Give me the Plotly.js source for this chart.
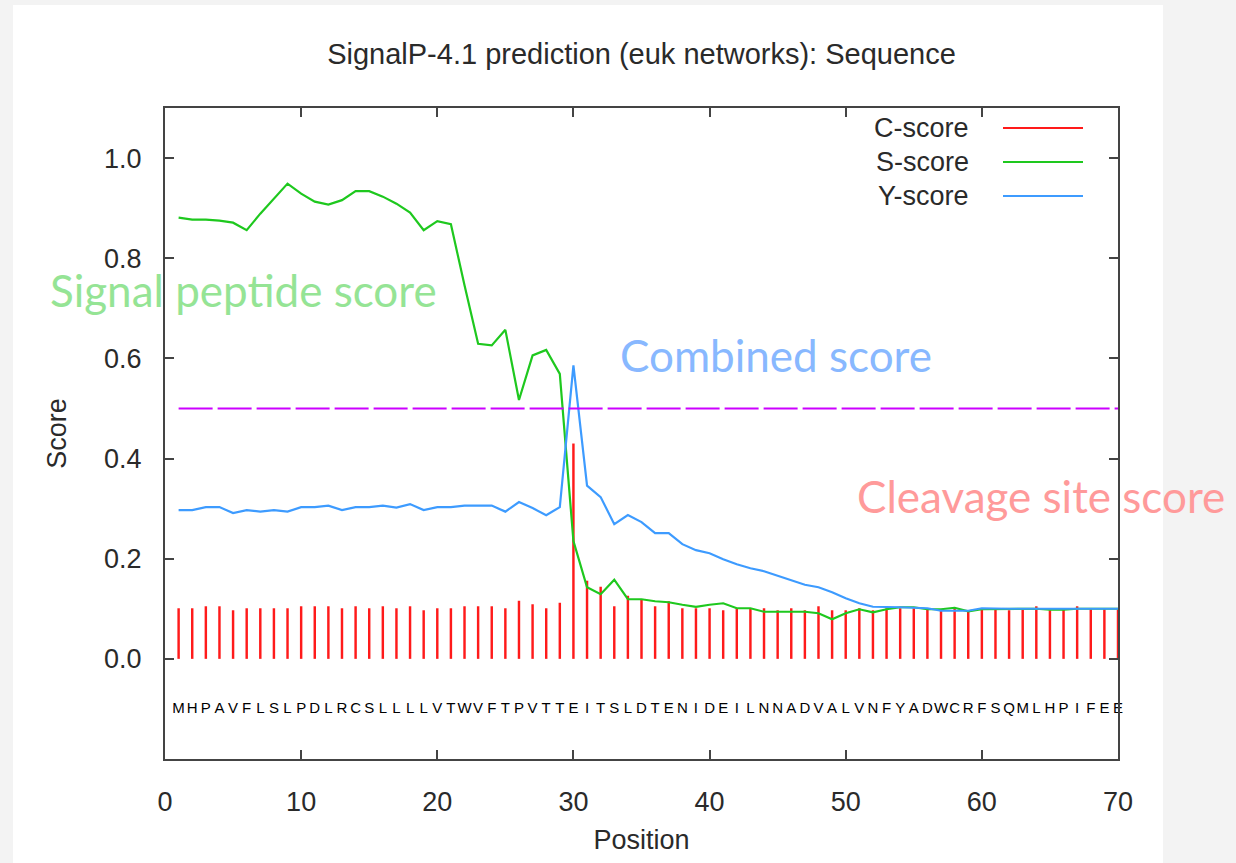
<!DOCTYPE html>
<html>
<head>
<meta charset="utf-8">
<script src="https://cdn.plot.ly/plotly-3.0.1.min.js"></script>
<style>html,body{margin:0;padding:0;background:#f3f3f3;}#chart{width:1236px;height:863px;}</style>
</head>
<body>
<div id="chart"></div>
<script>
// ---- data ----
const sequence = ["M","H","P","A","V","F","L","S","L","P","D","L","R","C","S","L","L","L","L","V",
  "T","W","V","F","T","P","V","T","T","E","I","T","S","L","D","T","E","N","I","D",
  "E","I","L","N","N","A","D","V","A","L","V","N","F","Y","A","D","W","C","R","F",
  "S","Q","M","L","H","P","I","F","E","E"];

const cScore = [0.101,0.101,0.105,0.105,0.097,0.101,0.101,0.101,0.101,0.105,
  0.105,0.105,0.101,0.105,0.101,0.105,0.101,0.105,0.097,0.101,
  0.101,0.105,0.105,0.105,0.101,0.116,0.109,0.101,0.112,0.430,
  0.156,0.144,0.105,0.126,0.118,0.105,0.115,0.101,0.101,0.101,
  0.097,0.101,0.101,0.101,0.097,0.101,0.097,0.105,0.097,0.097,
  0.101,0.097,0.101,0.101,0.101,0.101,0.097,0.101,0.097,0.101,
  0.101,0.097,0.101,0.105,0.097,0.101,0.105,0.101,0.101,0.101];

const sScore = [0.881,0.877,0.877,0.875,0.871,0.856,0.889,0.920,0.949,0.929,
  0.913,0.907,0.916,0.934,0.934,0.923,0.909,0.891,0.856,0.874,
  0.868,0.746,0.629,0.626,0.657,0.517,0.606,0.617,0.569,0.235,
  0.143,0.129,0.158,0.119,0.119,0.115,0.113,0.108,0.104,0.108,
  0.111,0.101,0.101,0.094,0.094,0.094,0.094,0.091,0.079,0.091,
  0.099,0.093,0.099,0.103,0.103,0.099,0.099,0.102,0.095,0.099,
  0.099,0.099,0.100,0.100,0.098,0.098,0.100,0.100,0.100,0.100];

const yScore = [0.297,0.297,0.303,0.303,0.291,0.297,0.294,0.297,0.294,0.303,
  0.303,0.306,0.297,0.303,0.303,0.306,0.302,0.309,0.297,0.303,
  0.303,0.306,0.306,0.306,0.294,0.313,0.301,0.287,0.303,0.586,
  0.346,0.323,0.269,0.287,0.273,0.251,0.251,0.229,0.217,0.211,
  0.199,0.189,0.181,0.175,0.166,0.157,0.148,0.143,0.133,0.121,
  0.111,0.104,0.104,0.103,0.102,0.101,0.096,0.096,0.096,0.101,
  0.100,0.100,0.100,0.100,0.100,0.100,0.100,0.100,0.100,0.100];

const threshold = 0.5;
const sequenceRow = -0.1;
const xTicks = [0,10,20,30,40,50,60,70];
const yTicks = [0.0,0.2,0.4,0.6,0.8,1.0];
const seriesNames = ["C-score","S-score","Y-score"];
const overlayLabels = ["Signal peptide score","Combined score","Cleavage site score"];

// ---- build ----
const positions = sequence.map((_, i) => i + 1);
const RED = "#ff1a1a", GREEN = "#1ec81e", BLUE = "#3d9bff", MAGENTA = "#cc00ff";
const FONT = "Liberation Sans, Arial, sans-serif";
const TXT = "#2a2a2a";

const traces = [
  {type:"bar", x:positions, y:cScore, base:0, width:0.18,
   marker:{color:RED, line:{width:0}}, hoverinfo:"x+y", name:seriesNames[0]},
  {type:"scatter", mode:"lines", x:positions, y:sScore,
   line:{color:GREEN, width:2.2}, name:seriesNames[1]},
  {type:"scatter", mode:"lines", x:positions, y:yScore,
   line:{color:BLUE, width:2.2}, name:seriesNames[2]},
  {type:"scatter", mode:"lines", x:[positions[0], positions[positions.length-1]], y:[threshold, threshold],
   line:{color:MAGENTA, width:2, dash:"34px,5px"}, name:"threshold"},
  {type:"scatter", mode:"text", x:positions, y:positions.map(() => sequenceRow), text:sequence,
   textfont:{family:FONT, size:15, color:"#000"}, textposition:"middle center",
   cliponaxis:false, hoverinfo:"skip"}
];

// paper helpers (plot area: x 165..1118, y 108..759 px)
const px = v => (v - 165) / 953;
const py = v => (759 - v) / 651;

const legendRows = [128, 162, 196];
const legendColors = [RED, GREEN, BLUE];
const annotations = [];
const shapes = [
  {type:"rect", xref:"paper", yref:"paper", x0:px(13), x1:px(1163), y0:py(900), y1:py(5),
   fillcolor:"#ffffff", line:{width:0}, layer:"below"}
];
seriesNames.forEach((n, i) => {
  annotations.push({xref:"paper", yref:"paper", x:px(971), y:py(legendRows[i]), xanchor:"right", yanchor:"middle",
    text:n, showarrow:false, font:{family:FONT, size:27, color:TXT}});
  shapes.push({type:"line", xref:"paper", yref:"paper", x0:px(1003), x1:px(1083),
    y0:py(legendRows[i]), y1:py(legendRows[i]), line:{color:legendColors[i], width:2}});
});

const overlayPos = [[243, 290, "#95e495"], [776, 355, "#88b8ff"], [1041, 496, "#ff9a9a"]];
overlayLabels.forEach((t, i) => {
  annotations.push({xref:"paper", yref:"paper", x:px(overlayPos[i][0]), y:py(overlayPos[i][1]),
    xanchor:"center", yanchor:"middle", text:t, showarrow:false, borderpad:0,
    font:{family:"Lato, sans-serif", size:44, color:overlayPos[i][2]}});
});

const axisCommon = {
  showgrid:false, zeroline:false, showline:true, linecolor:"#444", linewidth:2,
  mirror:"allticks", ticks:"inside", ticklen:9, tickwidth:2, tickcolor:"#444",
  tickfont:{family:FONT, size:27, color:TXT}
};

const layout = {
  width:1236, height:863,
  paper_bgcolor:"#f3f3f3", plot_bgcolor:"#ffffff",
  margin:{l:165, r:118, t:108, b:104, pad:0},
  showlegend:false,
  title:{text:"SignalP-4.1 prediction (euk networks): Sequence", x:0.5, xref:"paper",
    y:1 - 54/863, yref:"container", yanchor:"middle", font:{family:FONT, size:29, color:TXT}},
  xaxis:Object.assign({}, axisCommon, {range:[0,70], tickvals:xTicks, ticklabelstandoff:18,
    title:{text:"Position", font:{family:FONT, size:27, color:TXT}, standoff:14}}),
  yaxis:Object.assign({}, axisCommon, {range:[-0.2,1.1], tickvals:yTicks, tickformat:".1f", ticklabelstandoff:16,
    title:{text:"Score", font:{family:FONT, size:27, color:TXT}, standoff:30}}),
  annotations:annotations,
  shapes:shapes
};

Plotly.newPlot("chart", traces, layout, {displayModeBar:false, staticPlot:true});
</script>
</body>
</html>
